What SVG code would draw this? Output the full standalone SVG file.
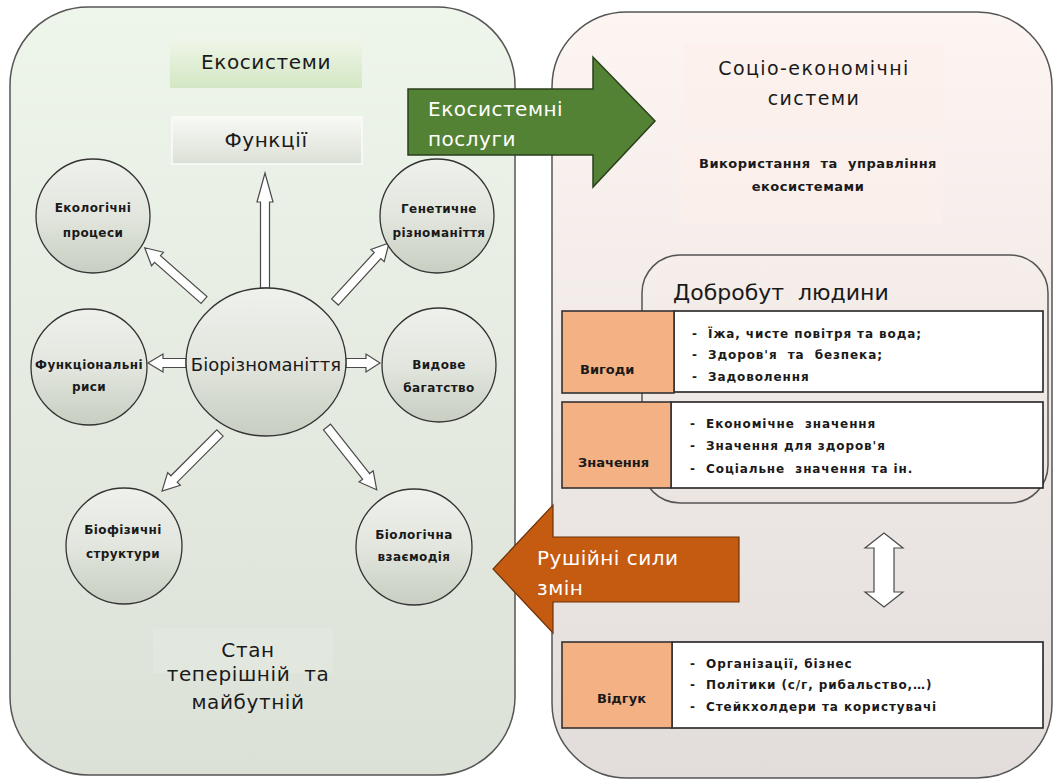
<svg xmlns="http://www.w3.org/2000/svg" width="1053" height="781" viewBox="0 0 1053 781">
<defs>
<linearGradient id="gLeft" x1="0" y1="0" x2="0" y2="1"><stop offset="0" stop-color="#eef5ea"/><stop offset="1" stop-color="#dce1d8"/></linearGradient>
<linearGradient id="gRight" x1="0" y1="0" x2="0" y2="1"><stop offset="0" stop-color="#fdf5f2"/><stop offset="1" stop-color="#e2dddb"/></linearGradient>
<linearGradient id="gInner" x1="0" y1="0" x2="0" y2="1"><stop offset="0" stop-color="#f5eeea"/><stop offset="1" stop-color="#ebe4e0"/></linearGradient>
<linearGradient id="gEco" x1="0" y1="0" x2="0" y2="1"><stop offset="0" stop-color="#f0f6ea"/><stop offset="1" stop-color="#d3e7c3"/></linearGradient>
<linearGradient id="gFun" x1="0" y1="0" x2="0" y2="1"><stop offset="0" stop-color="#f8f9f5"/><stop offset="1" stop-color="#dbe0d6"/></linearGradient>
<linearGradient id="gCirc" x1="0" y1="0" x2="0" y2="1"><stop offset="0" stop-color="#eff1ec"/><stop offset="0.5" stop-color="#e2e6de"/><stop offset="1" stop-color="#c8cec1"/></linearGradient>
</defs>
<style>
.panel{stroke:#555;stroke-width:1.5}
.circ{fill:url(#gCirc);stroke:#333;stroke-width:1.3}
.ol{fill:#fff;stroke:#4a4a4a;stroke-width:1.2;stroke-linejoin:miter}
.t{font-family:"DejaVu Sans",sans-serif;fill:#1a1a1a}
.big{font-size:20px;letter-spacing:0.6px}
.cl{font-size:12px;font-weight:bold;text-anchor:middle;letter-spacing:0.4px}
.mid{text-anchor:middle}
.wt{font-family:"DejaVu Sans",sans-serif;font-size:20px;fill:#fff;letter-spacing:0.5px}
.or{fill:#f4b183;stroke:#333;stroke-width:1.6}
.wb{fill:#fff;stroke:#222;stroke-width:1.6}
.bl{font-size:12px;font-weight:bold;letter-spacing:0.9px}
.lb{font-size:13px;font-weight:bold}
</style>

<g id="panel-left"><rect class="panel" x="10" y="7" width="505" height="768" rx="78" fill="url(#gLeft)"/></g>
<g id="panel-right"><rect class="panel" x="552" y="12" width="500" height="766" rx="75" fill="url(#gRight)"/></g>

<g id="node-ekosystemy">
<rect x="170" y="38" width="192" height="50" fill="url(#gEco)"/>
<text class="t big mid" x="266" y="69">Екосистеми</text>
</g>
<g id="node-funktsii">
<rect x="172" y="117" width="190" height="47" fill="url(#gFun)" stroke="#fbfcfa" stroke-width="1.5"/>
<text class="t big mid" x="266" y="147">Функції</text>
</g>

<g id="node-stan">
<rect x="153" y="628" width="180" height="45" fill="#e5eae1" opacity="0.6"/>
<text class="t big mid" x="248" y="657">Стан</text>
<text class="t big mid" x="248" y="681">теперішній&#160;&#160;та</text>
<text class="t big mid" x="248" y="709">майбутній</text>
</g>

<g id="connectors">
<polygon class="ol" points="260.5,288 260.5,202 257,202 265,173 273,202 269.5,202 269.5,288"/>
<g transform="translate(204,300) rotate(-138.6)"><polygon class="ol" points="0,-4.5 62,-4.5 62,-9 79,0 62,9 62,4.5 0,4.5"/></g>
<g transform="translate(335,302) rotate(-47.5)"><polygon class="ol" points="0,-4.5 63,-4.5 63,-9 80,0 63,9 63,4.5 0,4.5"/></g>
<g transform="translate(186,363) rotate(180)"><polygon class="ol" points="0,-4.5 23,-4.5 23,-9 38,0 23,9 23,4.5 0,4.5"/></g>
<g transform="translate(346,363)"><polygon class="ol" points="0,-4.5 20,-4.5 20,-9 34,0 20,9 20,4.5 0,4.5"/></g>
<g transform="translate(220,433) rotate(135)"><polygon class="ol" points="0,-4.5 65,-4.5 65,-9 82,0 65,9 65,4.5 0,4.5"/></g>
<g transform="translate(327,427) rotate(51.6)"><polygon class="ol" points="0,-4.5 63,-4.5 63,-9 80,0 63,9 63,4.5 0,4.5"/></g>
<polygon class="ol" points="884,533 903,548 894,548 894,592 903,592 884,607 865,592 874,592 874,548 865,548"/>
</g>

<g id="node-bioriznomanittia">
<ellipse class="circ" cx="266" cy="362" rx="80" ry="74"/>
<text class="t mid" font-size="18" x="266" y="371">Біорізноманіття</text>
</g>
<g id="node-ekolohichni">
<circle class="circ" cx="93" cy="216" r="57"/>
<text class="t cl" x="93" y="212">Екологічні</text>
<text class="t cl" x="93" y="237">процеси</text>
</g>
<g id="node-henetychne">
<circle class="circ" cx="437" cy="216" r="57"/>
<text class="t cl" x="439" y="213">Генетичне</text>
<text class="t cl" x="439" y="237">різноманіття</text>
</g>
<g id="node-funktsionalni">
<circle class="circ" cx="89" cy="367" r="58"/>
<text class="t cl" x="89" y="369">Функціональні</text>
<text class="t cl" x="89" y="391">риси</text>
</g>
<g id="node-vydove">
<circle class="circ" cx="439" cy="365" r="57"/>
<text class="t cl" x="439" y="369">Видове</text>
<text class="t cl" x="439" y="392">багатство</text>
</g>
<g id="node-biofizychni">
<circle class="circ" cx="124" cy="546" r="58"/>
<text class="t cl" x="123" y="534">Біофізичні</text>
<text class="t cl" x="123" y="558">структури</text>
</g>
<g id="node-biolohichna">
<circle class="circ" cx="414" cy="547" r="58"/>
<text class="t cl" x="414" y="539">Біологічна</text>
<text class="t cl" x="414" y="561">взаємодія</text>
</g>

<g id="node-sotsio">
<rect x="683" y="43" width="261" height="85" fill="#fcefeb" opacity="0.7"/>
<text class="t mid" font-size="19" letter-spacing="1.4" x="814" y="75">Соціо-економічні</text>
<text class="t mid" font-size="19" letter-spacing="1.4" x="814" y="105">системи</text>
</g>
<g id="node-vykorystannia">
<rect x="679" y="142" width="263" height="83" fill="#fcefeb" opacity="0.7"/>
<text class="t mid lb" letter-spacing="0.5" x="818" y="168">Використання&#160;&#160;та&#160;&#160;управління</text>
<text class="t mid lb" letter-spacing="0.5" x="808" y="191">екосистемами</text>
</g>

<g id="node-dobrobut">
<rect x="642" y="255" width="406" height="248" rx="38" fill="url(#gInner)" stroke="#555" stroke-width="1.5"/>
<text class="t" font-size="22" x="673" y="300">Добробут&#160;&#160;людини</text>
</g>
<g id="node-vyhody">
<rect class="wb" x="674" y="311" width="369" height="81"/>
<rect class="or" x="562" y="311" width="112" height="82"/>
<text class="t lb" x="580" y="374">Вигоди</text>
<text class="t bl" x="692" y="338">-&#160;&#160;Їжа, чисте повітря та вода;</text>
<text class="t bl" x="692" y="359">-&#160;&#160;Здоров'я&#160;&#160;та&#160;&#160;безпека;</text>
<text class="t bl" x="692" y="381">-&#160;&#160;Задоволення</text>
</g>
<g id="node-znachennia">
<rect class="wb" x="671" y="402" width="372" height="86"/>
<rect class="or" x="562" y="402" width="109" height="86"/>
<text class="t lb" x="578" y="467">Значення</text>
<text class="t bl" x="690" y="428">-&#160;&#160;Економічне&#160;&#160;значення</text>
<text class="t bl" x="690" y="450">-&#160;&#160;Значення для здоров'я</text>
<text class="t bl" x="690" y="473">-&#160;&#160;Соціальне&#160;&#160;значення та ін.</text>
</g>
<g id="node-vidhuk">
<rect class="wb" x="672" y="642" width="371" height="86"/>
<rect class="or" x="562" y="642" width="110" height="86"/>
<text class="t lb" x="597" y="703">Відгук</text>
<text class="t bl" x="690" y="668">-&#160;&#160;Організації, бізнес</text>
<text class="t bl" x="690" y="689">-&#160;&#160;Політики (с/г, рибальство,…)</text>
<text class="t bl" x="690" y="711">-&#160;&#160;Стейкхолдери та користувачі</text>
</g>

<g id="arrow-posluhy">
<polygon points="408,89 593,89 593,57 655,121 593,187 593,155 408,155" fill="#548235" stroke="#2a3f1c" stroke-width="1.5"/>
<text class="wt" x="428" y="116">Екосистемні</text>
<text class="wt" x="428" y="146">послуги</text>
</g>
<g id="arrow-rushiini">
<polygon points="739,537 553,537 553,505 493,569 553,633 553,602 739,602" fill="#c55a11" stroke="#6e3309" stroke-width="1.2"/>
<text class="wt" x="537" y="565">Рушійні сили</text>
<text class="wt" x="537" y="595">змін</text>
</g>
</svg>
